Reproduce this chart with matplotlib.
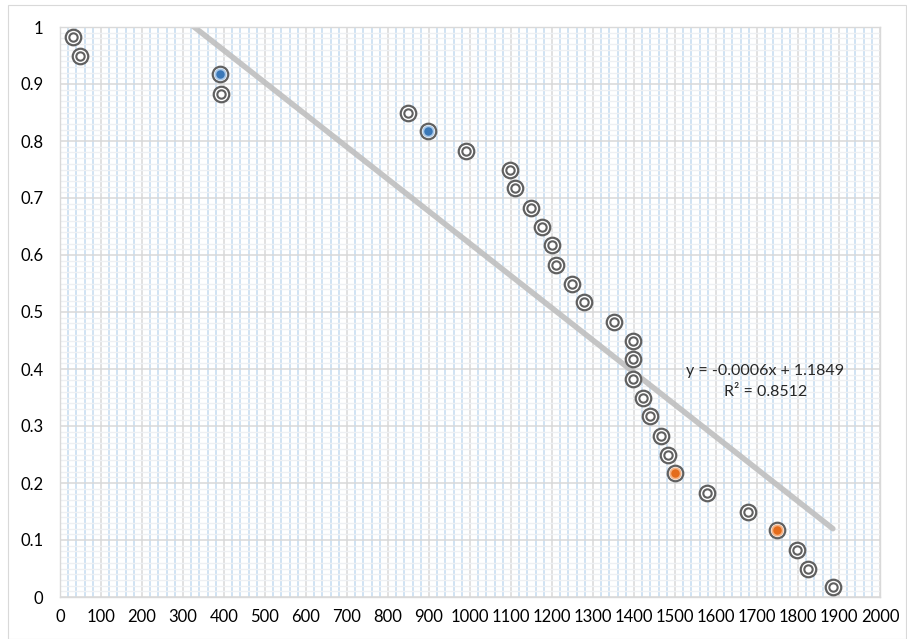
import numpy as np
import matplotlib
matplotlib.use("Agg")
import matplotlib.pyplot as plt
from matplotlib.ticker import MultipleLocator

plt.rcParams['font.family'] = ['Lato', 'DejaVu Sans']

# Observations: distance (x) against cumulative probability (y)
x_vals = [31, 49, 390, 393, 849, 898, 990, 1098, 1110, 1148, 1175, 1200, 1210,
          1249, 1278, 1351, 1397, 1397, 1397, 1422, 1439, 1466, 1482, 1500,
          1578, 1678, 1749, 1797, 1824, 1885]
y_vals = [0.983, 0.950, 0.917, 0.883, 0.850, 0.817, 0.783, 0.750, 0.717, 0.683,
          0.650, 0.617, 0.583, 0.550, 0.517, 0.483, 0.450, 0.417, 0.383, 0.350,
          0.317, 0.283, 0.250, 0.217, 0.183, 0.150, 0.117, 0.083, 0.050, 0.017]

# Highlighted observations (indices into the series above)
blue_idx = [2, 5]
orange_idx = [23, 26]

# Linear trend line
slope = -0.000565
intercept = 1.1849
r_squared = 0.8512

x = np.array(x_vals)
y = np.array(y_vals)

fig = plt.figure(figsize=(9.07, 6.39), dpi=100)
fig.patch.set_facecolor('white')
# thin chart border
fig.add_artist(plt.Rectangle((8 / 907, 0), 898 / 907, 634 / 639,
                             transform=fig.transFigure, fill=False,
                             edgecolor='#d9d9d9', linewidth=0.8))

ax = fig.add_axes([60 / 907, 42 / 639, 820 / 907, 570 / 639])
ax.set_xlim(0, 2000)
ax.set_ylim(0, 1)

ax.xaxis.set_major_locator(MultipleLocator(100))
ax.xaxis.set_minor_locator(MultipleLocator(20))
ax.yaxis.set_major_locator(MultipleLocator(0.1))
ax.yaxis.set_minor_locator(MultipleLocator(0.01))

ax.grid(which='minor', axis='y', color='#eef0f3', linewidth=1.0, zorder=0)
ax.grid(which='minor', axis='x', color='#c3dbf0', linewidth=1.1, zorder=0.5)
ax.grid(which='major', color='#d9d9d9', linewidth=1.1, zorder=1)
ax.set_axisbelow(True)

for s in ax.spines.values():
    s.set_color('#d9d9d9')
    s.set_linewidth(1.0)

ax.tick_params(which='both', length=0)
ax.tick_params(axis='x', pad=9, labelsize=12, labelcolor='#000000')
ax.tick_params(axis='y', pad=12, labelsize=12, labelcolor='#000000')
ax.yaxis.set_major_formatter(plt.FuncFormatter(lambda v, p: f"{v:g}"))

# trend line across the data range
tx = np.array([x.min(), x.max()])
ax.plot(tx, slope * tx + intercept, color='#bfbfbf', linewidth=4.0,
        alpha=0.9, solid_capstyle='round', zorder=2)

# double-ring markers
ax.scatter(x, y, s=125, facecolor='white', edgecolor='#606060',
           linewidth=1.6, zorder=3)
plain = [i for i in range(len(x)) if i not in blue_idx + orange_idx]
ax.scatter(x[plain], y[plain], s=36, facecolor='white', edgecolor='#606060',
           linewidth=1.5, zorder=4)
ax.scatter(x[blue_idx], y[blue_idx], s=55, facecolor='#3a78b8',
           edgecolor='#a9c8e8', linewidth=1.3, zorder=4)
ax.scatter(x[orange_idx], y[orange_idx], s=55, facecolor='#e46c1c',
           edgecolor='#f4b183', linewidth=1.3, zorder=4)

ax.text(1720, 0.396, f"y = {slope:.4f}x + {intercept:.4f}",
        ha='center', va='center', fontsize=11.5, color='#262626', zorder=5)
ax.text(1720, 0.360, f"R² = {r_squared:.4f}",
        ha='center', va='center', fontsize=11.5, color='#262626', zorder=5)

fig.savefig('out.png', dpi=100, facecolor='white')
